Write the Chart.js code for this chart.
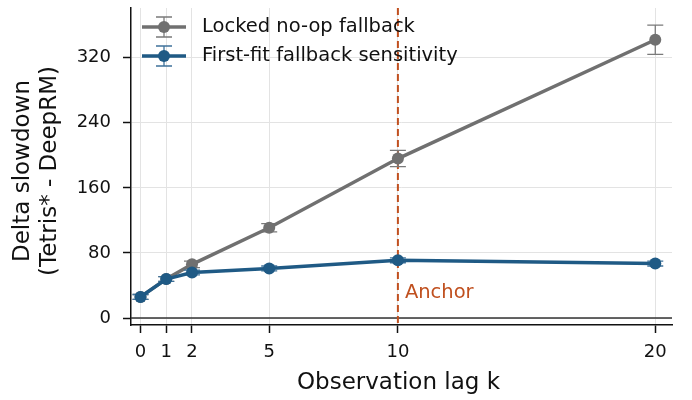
<!DOCTYPE html>
<html>
<head>
<meta charset="utf-8">
<script src="https://cdn.jsdelivr.net/npm/chart.js@4"></script>
<style>
  html, body { margin: 0; padding: 0; background: #fff; }
  #wrap { width: 692px; height: 400px; }
</style>
</head>
<body>
<div id="wrap"><canvas id="chart"></canvas></div>
<script>
// data
const lags = [0, 1, 2, 5, 10, 20];
const lockedNoop = [26, 48, 66, 111, 196, 342];
const lockedNoopErr = [3, 3, 4, 5, 10, 18];
const firstFit = [26, 48, 56, 61, 71, 67];
const firstFitErr = [3, 3, 3, 3, 3, 3];
const xTicks = [0, 1, 2, 5, 10, 20];
const yTicks = [0, 80, 160, 240, 320];
const anchorLag = 10;

const GRAY = '#707070';
const BLUE = '#1f5a85';
const ORANGE = '#c0501f';
const FONT = 'DejaVu Sans';

const values = [lockedNoop, firstFit];
const errors = [lockedNoopErr, firstFitErr];
const errColors = ['#7a7a7a', '#3f729a'];

const decorPlugin = {
    id: 'decor',
    beforeDatasetsDraw(chart) {
        const { ctx, chartArea, scales } = chart;
        // dark line at y = 0
        const y0 = scales.y.getPixelForValue(0);
        ctx.save();
        ctx.strokeStyle = '#333';
        ctx.lineWidth = 1.5;
        ctx.beginPath();
        ctx.moveTo(chartArea.left, y0);
        ctx.lineTo(chartArea.right, y0);
        ctx.stroke();
        // anchor line
        const xa = scales.x.getPixelForValue(anchorLag);
        ctx.strokeStyle = ORANGE;
        ctx.lineWidth = 2;
        ctx.setLineDash([7, 4]);
        ctx.beginPath();
        ctx.moveTo(xa, chartArea.top);
        ctx.lineTo(xa, chartArea.bottom);
        ctx.stroke();
        ctx.setLineDash([]);
        ctx.fillStyle = ORANGE;
        ctx.font = '19.5px ' + FONT;
        ctx.textBaseline = 'middle';
        ctx.fillText('Anchor', xa + 7, scales.y.getPixelForValue(31));
        ctx.restore();
    },
    beforeDatasetDraw(chart, args) {
        const { ctx, scales } = chart;
        const vals = values[args.index];
        const err = errors[args.index];
        ctx.save();
        ctx.strokeStyle = errColors[args.index];
        ctx.lineWidth = 1.3;
        vals.forEach((v, i) => {
            const x = scales.x.getPixelForValue(lags[i]);
            const yt = scales.y.getPixelForValue(v + err[i]);
            const yb = scales.y.getPixelForValue(v - err[i]);
            ctx.beginPath();
            ctx.moveTo(x, yt); ctx.lineTo(x, yb);
            ctx.moveTo(x - 8, yt); ctx.lineTo(x + 8, yt);
            ctx.moveTo(x - 8, yb); ctx.lineTo(x + 8, yb);
            ctx.stroke();
        });
        ctx.restore();
    },
    afterDraw(chart) {
        const { ctx, chartArea } = chart;
        ctx.save();
        // legend
        const entries = [
            { label: 'Locked no-op fallback', color: GRAY, err: errColors[0], y: 27 },
            { label: 'First-fit fallback sensitivity', color: BLUE, err: errColors[1], y: 56 }
        ];
        entries.forEach(e => {
            ctx.strokeStyle = e.err;
            ctx.lineWidth = 1.3;
            ctx.beginPath();
            ctx.moveTo(164, e.y - 10); ctx.lineTo(164, e.y + 10);
            ctx.moveTo(156, e.y - 10); ctx.lineTo(172, e.y - 10);
            ctx.moveTo(156, e.y + 10); ctx.lineTo(172, e.y + 10);
            ctx.stroke();
            ctx.strokeStyle = e.color;
            ctx.lineWidth = 3.5;
            ctx.beginPath();
            ctx.moveTo(142, e.y); ctx.lineTo(186, e.y);
            ctx.stroke();
            ctx.fillStyle = e.color;
            ctx.beginPath();
            ctx.arc(164, e.y, 6, 0, Math.PI * 2);
            ctx.fill();
            ctx.fillStyle = '#111';
            ctx.font = '19.5px ' + FONT;
            ctx.textBaseline = 'middle';
            ctx.textAlign = 'left';
            ctx.fillText(e.label, 202, e.y);
        });
        // axis titles
        ctx.fillStyle = '#111';
        ctx.font = '23px ' + FONT;
        ctx.textAlign = 'center';
        ctx.textBaseline = 'middle';
        ctx.fillText('Observation lag k', (chartArea.left + chartArea.right) / 2 - 3, 383);
        ctx.translate(0, 171);
        ctx.rotate(-Math.PI / 2);
        ctx.fillText('Delta slowdown', 0, 23);
        ctx.fillText('(Tetris* - DeepRM)', 0, 50);
        ctx.restore();
    }
};

const ctx = document.getElementById('chart').getContext('2d');
new Chart(ctx, {
    type: 'line',
    data: {
        datasets: [{
            label: 'Locked no-op fallback',
            data: lockedNoop.map((v, i) => ({ x: lags[i], y: v })),
            borderColor: GRAY,
            backgroundColor: GRAY,
            borderWidth: 3.5,
            pointRadius: 6,
            pointBorderWidth: 0,
            tension: 0,
            order: 2
        }, {
            label: 'First-fit fallback sensitivity',
            data: firstFit.map((v, i) => ({ x: lags[i], y: v })),
            borderColor: BLUE,
            backgroundColor: BLUE,
            borderWidth: 3.5,
            pointRadius: 6,
            pointBorderWidth: 0,
            tension: 0,
            order: 1
        }]
    },
    options: {
        responsive: true,
        maintainAspectRatio: false,
        animation: false,
        layout: { padding: { left: 0, right: 20, top: 8, bottom: 0 } },
        plugins: {
            legend: { display: false },
            tooltip: { enabled: false }
        },
        scales: {
            x: {
                type: 'linear',
                min: -0.37,
                max: 20.65,
                afterBuildTicks: scale => { scale.ticks = xTicks.map(v => ({ value: v })); },
                afterFit: scale => { scale.height = 75; },
                grid: {
                    color: '#e3e3e3',
                    lineWidth: 1,
                    tickLength: 8,
                    tickColor: '#111',
                    tickWidth: 1.5
                },
                border: { color: '#111', width: 1.5 },
                ticks: {
                    color: '#111',
                    font: { family: FONT, size: 18 },
                    padding: 9,
                    maxRotation: 0,
                    autoSkip: false
                }
            },
            y: {
                type: 'linear',
                min: -8.5,
                max: 381,
                afterBuildTicks: scale => { scale.ticks = yTicks.map(v => ({ value: v })); },
                afterFit: scale => {
                    scale.width = 131;
                    scale.paddingTop = 0;
                    scale.paddingBottom = 0;
                },
                grid: {
                    color: '#e3e3e3',
                    lineWidth: 1,
                    tickLength: 8,
                    tickColor: '#111',
                    tickWidth: 1.5
                },
                border: { color: '#111', width: 1.5 },
                ticks: {
                    color: '#111',
                    font: { family: FONT, size: 18 },
                    padding: 12
                }
            }
        }
    },
    plugins: [decorPlugin]
});
</script>
</body>
</html>
